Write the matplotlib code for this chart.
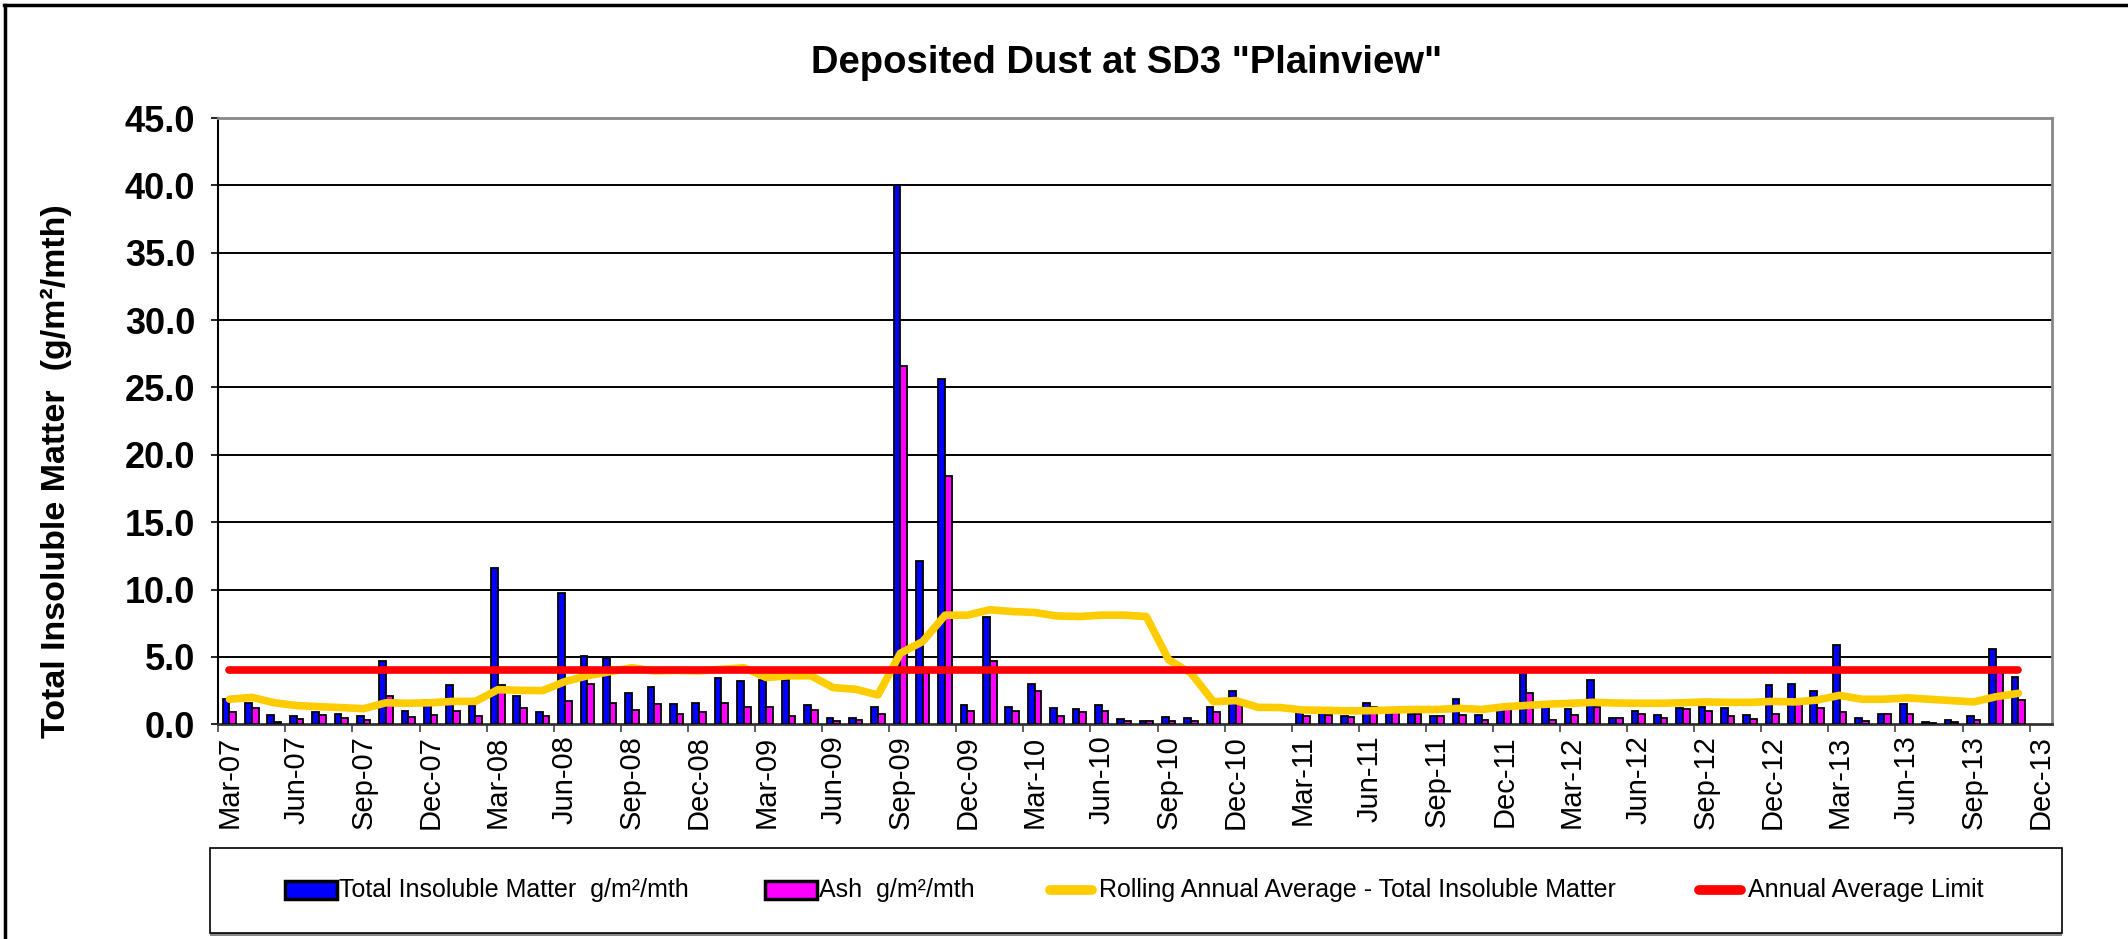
import numpy as np
import matplotlib
matplotlib.use("Agg")
import matplotlib.pyplot as plt
from matplotlib.patches import Rectangle
from matplotlib.lines import Line2D

plt.rcParams['font.family'] = ['Liberation Sans', 'DejaVu Sans']

# ---------------- data ----------------
mon_names = ['Jan', 'Feb', 'Mar', 'Apr', 'May', 'Jun', 'Jul', 'Aug', 'Sep', 'Oct', 'Nov', 'Dec']
months = [f"{mon_names[(2 + k) % 12]}-{(7 + (2 + k) // 12):02d}" for k in range(81)]  # Mar-07 .. Nov-13

total_insoluble = [
    1.9, 1.6, 0.7, 0.6, 0.9, 0.8, 0.6, 4.7, 1.0, 1.8,
    2.9, 1.4, 11.6, 2.1, 0.9, 9.75, 5.1, 4.9, 2.3, 2.8,
    1.5, 1.6, 3.4, 3.2, 3.3, 3.3, 1.4, 0.45, 0.45, 1.3,
    40.0, 12.1, 25.6, 1.4, 7.95, 1.3, 3.0, 1.2, 1.1, 1.4,
    0.37, 0.27, 0.57, 0.47, 1.3, 2.5, np.nan, np.nan, 0.9, 0.9,
    0.6, 1.6, 0.9, 0.8, 0.6, 1.86, 0.7, 1.4, 3.8, 1.6,
    1.1, 3.3, 0.47, 1.0, 0.7, 1.2, 1.3, 1.2, 0.7, 2.9,
    3.0, 2.5, 5.9, 0.47, 0.8, 1.5, 0.2, 0.3, 0.6, 5.6,
    3.5]

ash = [
    0.9, 1.2, 0.2, 0.37, 0.7, 0.5, 0.3, 2.1, 0.57, 0.7,
    0.97, 0.6, 2.9, 1.2, 0.6, 1.76, 3.0, 1.6, 1.06, 1.5,
    0.8, 0.9, 1.6, 1.3, 1.3, 0.64, 1.06, 0.27, 0.32, 0.8,
    26.6, 3.8, 18.4, 1.0, 4.68, 1.0, 2.5, 0.64, 0.9, 1.0,
    0.27, 0.27, 0.27, 0.27, 0.9, 1.6, np.nan, np.nan, 0.6, 0.7,
    0.52, 1.3, 0.9, 0.75, 0.6, 0.7, 0.3, 1.2, 2.3, 0.3,
    0.72, 1.3, 0.47, 0.8, 0.5, 1.14, 1.0, 0.6, 0.37, 0.8,
    1.6, 1.2, 0.9, 0.27, 0.8, 0.8, 0.1, 0.2, 0.3, 3.9,
    1.8]

rolling_avg = [
    1.86, 2.0, 1.6, 1.39, 1.31, 1.24, 1.16, 1.6, 1.56, 1.6,
    1.7, 1.7, 2.57, 2.52, 2.5, 3.17, 3.6, 3.9, 4.2, 3.96,
    4.0, 3.96, 4.08, 4.2, 3.47, 3.6, 3.6, 2.72, 2.6, 2.18,
    5.27, 6.14, 8.1, 8.1, 8.5, 8.37, 8.3, 8.04, 8.0, 8.1,
    8.1, 8.0, 4.78, 3.79, 1.68, 1.76, 1.26, 1.24, 1.06, 1.04,
    1.0, 1.01, 1.06, 1.1, 1.1, 1.19, 1.1, 1.3, 1.4, 1.5,
    1.56, 1.63, 1.58, 1.56, 1.56, 1.6, 1.66, 1.63, 1.63, 1.7,
    1.66, 1.8, 2.15, 1.86, 1.86, 1.96, 1.86, 1.76, 1.66, 2.05,
    2.3]

annual_limit = [4.0] * len(months)

tick_labels = ['Mar-07', 'Jun-07', 'Sep-07', 'Dec-07', 'Mar-08', 'Jun-08', 'Sep-08',
               'Dec-08', 'Mar-09', 'Jun-09', 'Sep-09', 'Dec-09', 'Mar-10', 'Jun-10',
               'Sep-10', 'Dec-10', 'Mar-11', 'Jun-11', 'Sep-11', 'Dec-11', 'Mar-12',
               'Jun-12', 'Sep-12', 'Dec-12', 'Mar-13', 'Jun-13', 'Sep-13', 'Dec-13']

series_names = ['Total Insoluble Matter  g/m\u00b2/mth', 'Ash  g/m\u00b2/mth',
                'Rolling Annual Average - Total Insoluble Matter', 'Annual Average Limit']

# ---------------- figure ----------------
W, H = 2128, 939
fig = plt.figure(figsize=(W / 100, H / 100), dpi=100)
fig.patch.set_facecolor('white')

ax_l, ax_r, ax_t, ax_b = 218.3, 2052.0, 118.0, 724.3
ax = fig.add_axes([ax_l / W, 1 - ax_b / H, (ax_r - ax_l) / W, (ax_b - ax_t) / H])

idx = np.arange(len(months))
bw = 0.3
ax.bar(idx + 0.35, total_insoluble, width=bw, color='#0000FF', edgecolor='black',
       linewidth=1.3, zorder=3)
ax.bar(idx + 0.65, ash, width=bw, color='#FF00FF', edgecolor='black',
       linewidth=1.3, zorder=3)
ax.plot(idx + 0.5, rolling_avg, color='#FFCC00', linewidth=5.5, zorder=4,
        solid_capstyle='round', solid_joinstyle='round')
ax.plot(idx + 0.5, annual_limit, color='#FF0000', linewidth=5.5, zorder=5,
        solid_capstyle='round')

ax.set_xlim(0, len(months) + 1)
ax.set_ylim(0, 45)
ax.set_yticks(np.arange(0, 46, 5))
ax.set_yticklabels([f"{v:.1f}" for v in np.arange(0, 46, 5)], fontsize=26, fontweight='bold')
# tick marks at 3-month boundaries, labels centred in the month slot
ax.set_xticks(np.arange(0, len(months) + 1, 3))
ax.set_xticklabels([])
ax.set_xticks(np.arange(0, len(months) + 1, 3) + 0.5, minor=True)
ax.set_xticklabels(tick_labels, minor=True, rotation=90, fontsize=21)
ax.tick_params(axis='x', which='minor', length=0, pad=8)
ax.tick_params(axis='x', which='major', direction='out', length=5.5, width=1.2, color='#444444')
ax.tick_params(axis='y', direction='out', length=5, width=1.2, color='black', pad=11.5)

for y in range(5, 45, 5):
    ax.axhline(y, color='black', linewidth=1.4, zorder=1)

ax.spines['left'].set_color('black')
ax.spines['left'].set_linewidth(1.5)
ax.spines['bottom'].set_color('#333333')
ax.spines['bottom'].set_linewidth(2.0)
ax.spines['top'].set_color('#888888')
ax.spines['top'].set_linewidth(2.0)
ax.spines['right'].set_color('#888888')
ax.spines['right'].set_linewidth(2.0)

ax.set_ylabel('Total Insoluble Matter  (g/m\u00b2/mth)', fontsize=24.5, fontweight='bold')
ax.yaxis.set_label_coords((72 - ax_l) / (ax_r - ax_l), 1 - (471 - ax_t) / (ax_b - ax_t))

fig.text(1127 / W, 1 - 63 / H, 'Deposited Dust at SD3 "Plainview"', fontsize=27.5,
         fontweight='bold', ha='center', va='center')

# outer chart frame (top and left edges visible)
fig.add_artist(Line2D([4 / W, 1.0], [1 - 5 / H, 1 - 5 / H], transform=fig.transFigure,
                      color='black', linewidth=2.5))
fig.add_artist(Line2D([5 / W, 5 / W], [0, 1 - 5 / H], transform=fig.transFigure,
                      color='black', linewidth=2.5))

# legend box
lx0, lx1, ly0, ly1 = 210, 2062, 848, 933
fig.add_artist(Rectangle((lx0 / W, 1 - (ly1 + 3) / H), (lx1 - lx0) / W, 3 / H,
                         transform=fig.transFigure, facecolor='#888888', edgecolor='none'))
fig.add_artist(Rectangle((lx0 / W, 1 - ly1 / H), (lx1 - lx0) / W, (ly1 - ly0) / H,
                         transform=fig.transFigure, facecolor='white', edgecolor='black',
                         linewidth=1.2))

# legend entries
key_x = [285, 765, 1045, 1694]
key_w, key_h, key_y = 52, 18, 890
key_styles = [('patch', '#0000FF'), ('patch', '#FF00FF'), ('line', '#FFCC00'), ('line', '#FF0000')]
for kx, (kind, col), name in zip(key_x, key_styles, series_names):
    if kind == 'patch':
        fig.add_artist(Rectangle((kx / W, 1 - (key_y + key_h / 2) / H), key_w / W, key_h / H,
                                 transform=fig.transFigure, facecolor=col, edgecolor='black',
                                 linewidth=2.5))
    else:
        fig.add_artist(Line2D([(kx + 5) / W, (kx + key_w - 5) / W], [1 - key_y / H, 1 - key_y / H],
                              transform=fig.transFigure, color=col, linewidth=7,
                              solid_capstyle='round'))
    fig.text((kx + key_w + 2) / W, 1 - key_y / H, name, fontsize=18, ha='left', va='center')

fig.savefig('out.png', dpi=100, facecolor='white')
